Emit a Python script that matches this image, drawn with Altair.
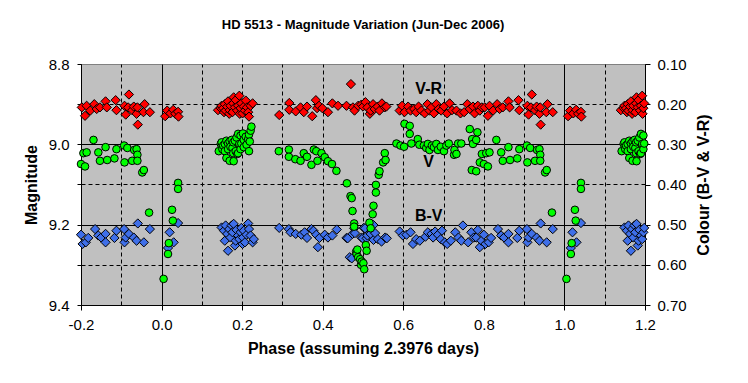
import altair as alt
import pandas as pd

TITLE = "HD 5513 - Magnitude Variation (Jun-Dec 2006)"
X_TITLE = "Phase (assuming 2.3976 days)"
Y_LEFT_TITLE = "Magnitude"
Y_RIGHT_TITLE = "Colour (B-V & V-R)"

x_ticks = [-0.2, -0.1, 0.0, 0.1, 0.2, 0.3, 0.4, 0.5, 0.6, 0.7, 0.8, 0.9, 1.0, 1.1, 1.2]
mag_ticks = [8.8, 8.9, 9.0, 9.1, 9.2, 9.3, 9.4]
col_ticks = [0.1, 0.2, 0.3, 0.4, 0.5, 0.6, 0.7]

# V magnitude, phase 0..1 (the chart repeats phases 0.8-1.0 at -0.2..0 and 0-0.2 at 1.0..1.2)
v_phase = [0.005, 0.016, 0.018, 0.026, 0.028, 0.041, 0.041,
           0.142, 0.147, 0.149, 0.151, 0.153, 0.157, 0.157, 0.161, 0.161, 0.165, 0.165, 0.169, 0.169,
           0.171, 0.174, 0.176, 0.178, 0.178, 0.179, 0.182, 0.184, 0.186, 0.188, 0.190, 0.190, 0.193,
           0.196, 0.196, 0.198, 0.202, 0.204, 0.204, 0.209, 0.211, 0.215, 0.217, 0.217, 0.219, 0.221, 0.223,
           0.291, 0.316, 0.316, 0.332, 0.345, 0.353, 0.361, 0.372, 0.378, 0.384, 0.387, 0.397, 0.405,
           0.413, 0.423, 0.434,
           0.460, 0.469, 0.472, 0.474, 0.478, 0.478, 0.483, 0.484, 0.486, 0.488, 0.493, 0.495, 0.497,
           0.501, 0.503, 0.507, 0.509, 0.516, 0.519, 0.524, 0.526, 0.532, 0.532, 0.539, 0.541, 0.550,
           0.554, 0.556,
           0.583, 0.593, 0.602, 0.603, 0.616, 0.616, 0.620, 0.636, 0.640, 0.651, 0.657, 0.661, 0.665,
           0.671, 0.676, 0.682, 0.686, 0.693, 0.701, 0.707, 0.713, 0.726, 0.727, 0.732, 0.736, 0.744,
           0.765, 0.770, 0.771, 0.773, 0.781, 0.781, 0.784, 0.790, 0.795, 0.800, 0.806, 0.810, 0.814,
           0.831, 0.843, 0.847,
           0.861, 0.865, 0.883, 0.888, 0.907, 0.908, 0.915, 0.927, 0.932, 0.938, 0.940, 0.940, 0.952,
           0.956, 0.969]
v_mag = [9.335, 9.273, 9.246, 9.163, 9.190, 9.096, 9.111,
         9.017, 8.999, 8.995, 9.012, 9.003, 8.999, 9.017, 8.991, 9.034, 8.998, 9.012, 8.993, 9.041,
         9.006, 8.989, 9.009, 8.995, 9.022, 9.042, 8.991, 9.017, 8.983, 9.024, 8.974, 9.022, 8.999,
         8.978, 9.012, 8.998, 8.973, 8.989, 9.007, 8.981, 9.001, 8.987, 8.976, 9.017, 8.993, 8.966, 8.956,
         9.017, 9.013, 9.031, 9.037, 9.041, 9.022, 9.031, 9.051, 9.013, 9.017, 9.041, 9.022, 9.032,
         9.042, 9.049, 9.066,
         9.097, 9.129, 9.134, 9.166, 9.197, 9.205, 9.267, 9.273, 9.262, 9.281, 9.286, 9.300, 9.292,
         9.296, 9.311, 9.251, 9.265, 9.195, 9.209, 9.174, 9.153, 9.120, 9.101, 9.076, 9.067, 9.045,
         9.022, 9.039,
         8.998, 9.003, 9.006, 8.949, 8.954, 8.974, 8.998, 8.987, 9.001, 9.003, 9.009, 8.999, 9.014,
         9.003, 9.007, 8.999, 9.014, 9.006, 9.017, 9.003, 8.998, 9.026, 9.014, 9.024, 8.998, 8.998,
         8.962, 9.064, 8.987, 8.999, 8.989, 9.067, 8.970, 9.045, 9.024, 9.049, 9.022, 9.055, 9.020,
         8.989, 9.020, 9.041,
         9.007, 9.039, 9.035, 9.012, 9.003, 9.045, 9.009, 9.041, 9.014, 9.012, 9.026, 9.041, 9.070,
         9.064, 9.170]

# B-V colour index
bv_phase = [0.016, 0.020, 0.030, 0.041,
            0.149, 0.155, 0.157, 0.159, 0.163, 0.165, 0.168, 0.171, 0.174, 0.176, 0.179, 0.182, 0.184,
            0.186, 0.190, 0.193, 0.196, 0.198, 0.201, 0.202, 0.204, 0.207, 0.211, 0.215, 0.217, 0.221,
            0.226, 0.229,
            0.292, 0.316, 0.320, 0.333, 0.347, 0.355, 0.361, 0.372, 0.377, 0.384, 0.388, 0.392, 0.405,
            0.413, 0.424, 0.435,
            0.459, 0.462, 0.467, 0.472, 0.474, 0.478, 0.480, 0.496, 0.499, 0.502, 0.505, 0.509, 0.511,
            0.519, 0.526, 0.526, 0.530, 0.537, 0.546, 0.555, 0.559,
            0.591, 0.599, 0.608, 0.618, 0.624, 0.632, 0.641, 0.655, 0.661, 0.670, 0.674, 0.679, 0.686,
            0.693, 0.696, 0.703, 0.709, 0.718, 0.729, 0.737, 0.744, 0.748, 0.761, 0.769, 0.775, 0.781,
            0.785, 0.790, 0.794, 0.800, 0.804, 0.812, 0.818, 0.835, 0.843, 0.850,
            0.861, 0.861, 0.883, 0.888, 0.907, 0.908, 0.911, 0.919, 0.931, 0.938, 0.941, 0.956, 0.971]
bv_col = [0.558, 0.519, 0.544, 0.496,
          0.507, 0.515, 0.540, 0.502, 0.523, 0.565, 0.511, 0.532, 0.502, 0.519, 0.498, 0.552, 0.540,
          0.513, 0.527, 0.536, 0.519, 0.508, 0.548, 0.532, 0.515, 0.544, 0.525, 0.497, 0.511, 0.527,
          0.544, 0.536,
          0.508, 0.511, 0.519, 0.523, 0.525, 0.519, 0.533, 0.511, 0.515, 0.525, 0.556, 0.533, 0.525,
          0.532, 0.527, 0.512,
          0.533, 0.534, 0.581, 0.584, 0.523, 0.509, 0.521, 0.532, 0.534, 0.508, 0.509, 0.534, 0.527,
          0.523, 0.501, 0.538, 0.521, 0.536, 0.542, 0.532, 0.534,
          0.517, 0.527, 0.525, 0.519, 0.548, 0.536, 0.540, 0.530, 0.519, 0.523, 0.532, 0.517, 0.525,
          0.536, 0.515, 0.544, 0.548, 0.540, 0.519, 0.532, 0.540, 0.502, 0.544, 0.519, 0.532, 0.532,
          0.513, 0.556, 0.540, 0.525, 0.548, 0.544, 0.533, 0.511, 0.527, 0.532,
          0.523, 0.544, 0.533, 0.515, 0.511, 0.544, 0.532, 0.523, 0.532, 0.540, 0.497, 0.544, 0.511]

# V-R colour index
vr_phase = [0.009, 0.014, 0.022, 0.029, 0.034, 0.041, 0.042,
            0.140, 0.147, 0.149, 0.153, 0.155, 0.157, 0.159, 0.163, 0.165, 0.168, 0.169, 0.171, 0.176,
            0.178, 0.179, 0.182, 0.184, 0.188, 0.190, 0.193, 0.194, 0.196, 0.198, 0.201, 0.204, 0.207,
            0.209, 0.212, 0.215, 0.217, 0.221, 0.226,
            0.292, 0.317, 0.317, 0.333, 0.345, 0.353, 0.361, 0.374, 0.383, 0.386, 0.391, 0.399, 0.413,
            0.424, 0.438, 0.459, 0.470, 0.475, 0.479, 0.488, 0.496,
            0.500, 0.506, 0.511, 0.517, 0.519, 0.525, 0.529, 0.536, 0.541, 0.547, 0.554, 0.558,
            0.591, 0.597, 0.603, 0.612, 0.618, 0.627, 0.632, 0.638, 0.645, 0.653, 0.660, 0.665, 0.670,
            0.676, 0.682, 0.688, 0.694, 0.701, 0.709, 0.715, 0.721, 0.732, 0.742, 0.751, 0.759, 0.765,
            0.773, 0.777, 0.785, 0.790, 0.795, 0.802, 0.810, 0.814, 0.823, 0.833, 0.839, 0.847,
            0.861, 0.864, 0.886, 0.888, 0.908, 0.911, 0.917, 0.919, 0.927, 0.931, 0.938, 0.940, 0.941,
            0.955, 0.958, 0.971]
vr_col = [0.230, 0.216, 0.223, 0.214, 0.224, 0.219, 0.231,
          0.215, 0.210, 0.204, 0.210, 0.220, 0.200, 0.216, 0.206, 0.193, 0.224, 0.215, 0.204, 0.220,
          0.198, 0.183, 0.208, 0.190, 0.216, 0.204, 0.179, 0.224, 0.210, 0.198, 0.223, 0.206, 0.216,
          0.191, 0.208, 0.220, 0.231, 0.204, 0.198,
          0.227, 0.197, 0.214, 0.218, 0.208, 0.220, 0.206, 0.230, 0.190, 0.210, 0.204, 0.210, 0.220,
          0.198, 0.204, 0.204, 0.150, 0.208, 0.216, 0.204, 0.201,
          0.206, 0.195, 0.208, 0.224, 0.216, 0.200, 0.212, 0.206, 0.216, 0.198, 0.208, 0.206,
          0.216, 0.204, 0.220, 0.206, 0.216, 0.212, 0.220, 0.206, 0.216, 0.223, 0.200, 0.216, 0.208,
          0.223, 0.200, 0.212, 0.216, 0.206, 0.223, 0.198, 0.215, 0.216, 0.223, 0.220, 0.200, 0.212,
          0.206, 0.223, 0.204, 0.216, 0.208, 0.208, 0.229, 0.204, 0.216, 0.200, 0.212, 0.208,
          0.193, 0.208, 0.190, 0.215, 0.204, 0.226, 0.208, 0.176, 0.215, 0.206, 0.224, 0.208, 0.251,
          0.220, 0.200, 0.220]

# in-plot series labels (x = phase, y = magnitude scale)
label_text = ["V-R", "V", "B-V"]
label_phase = [0.663, 0.663, 0.663]
label_mag = [8.862, 9.045, 9.178]


def fold(phases, values, series):
    rows = []
    for p, v in zip(phases, values):
        for shift in (-1, 0, 1):
            q = round(p + shift, 4)
            if -0.2 <= q <= 1.2:
                rows.append({"phase": q, "value": v, "series": series})
    return rows


df_v = pd.DataFrame(fold(v_phase, v_mag, "V"))
df_c = pd.DataFrame(fold(vr_phase, vr_col, "V-R") + fold(bv_phase, bv_col, "B-V"))
df_lab = pd.DataFrame({"phase": label_phase, "value": label_mag, "text": label_text})

FONT = "Liberation Sans"

x_axis = alt.Axis(
    orient="bottom", values=x_ticks, title=X_TITLE,
    labelExpr="abs(round(datum.value*10)) % 2 == 0 ? replace(format(datum.value, '.1f'), '\u2212', '-') : ''",
    tickOpacity={"condition": {"test": "abs(round(datum.value*10)) % 2 == 0", "value": 1}, "value": 0},
    grid=True, gridColor="black", gridWidth=1,
    gridDash={"condition": {"test": "abs(datum.value) < 0.001 || abs(datum.value - 1) < 0.001", "value": []},
              "value": [4, 3]},
    labelFlush=False, labelOverlap=False, labelFont=FONT, labelFontSize=15, labelColor="black",
    labelPadding=7, tickSize=5, tickColor="black", domainColor="black",
    titleFont=FONT, titleFontSize=16, titleFontWeight="bold", titleColor="black", titlePadding=8,
)
x_enc = alt.X("phase:Q", scale=alt.Scale(domain=[-0.2, 1.2], nice=False, zero=False), axis=x_axis)

left_axis = alt.Axis(
    orient="left", values=mag_ticks, title=Y_LEFT_TITLE,
    labelExpr="round(datum.value*10) % 2 == 0 ? format(datum.value, '.1f') : ''",
    grid=True, gridColor="black", gridWidth=1,
    gridDash={"condition": {"test": "abs(datum.value - 9.0) < 0.001 || abs(datum.value - 9.2) < 0.001",
                            "value": []}, "value": [4, 3]},
    gridOpacity={"condition": {"test": "datum.value < 8.85 || datum.value > 9.35", "value": 0}, "value": 1},
    labelFlush=False, labelOverlap=False, labelFont=FONT, labelFontSize=15, labelColor="black",
    labelPadding=8, tickSize=4, tickColor="black", domainColor="black",
    titleFont=FONT, titleFontSize=16, titleFontWeight="bold", titleColor="black", titlePadding=9,
)
right_axis = alt.Axis(
    orient="right", values=col_ticks, format=".2f", title=Y_RIGHT_TITLE, grid=False,
    labelFlush=False, labelOverlap=False, labelFont=FONT, labelFontSize=15, labelColor="black",
    labelPadding=7, tickSize=5, tickColor="black", domainColor="black",
    titleFont=FONT, titleFontSize=16, titleFontWeight="bold", titleColor="black", titlePadding=9,
    titleAngle=270, titleBaseline="top",
)

diamonds = alt.Chart(df_c).mark_point(
    shape="diamond", filled=True, stroke="black", strokeWidth=1, size=85, opacity=1
).encode(
    x=x_enc,
    y=alt.Y("value:Q", scale=alt.Scale(domain=[0.1, 0.7], reverse=True, nice=False, zero=False), axis=right_axis),
    fill=alt.Fill("series:N", scale=alt.Scale(domain=["V-R", "B-V"], range=["#FF0000", "#3F6FE8"]), legend=None),
)

circles = alt.Chart(df_v).mark_point(
    shape="circle", filled=True, fill="#00FF00", stroke="black", strokeWidth=1, size=58, opacity=1
).encode(
    x=x_enc,
    y=alt.Y("value:Q", scale=alt.Scale(domain=[8.8, 9.4], reverse=True, nice=False, zero=False), axis=left_axis),
)

labels = alt.Chart(df_lab).mark_text(
    font=FONT, fontSize=16, fontWeight="bold", color="black", align="center", baseline="middle"
).encode(
    x=x_enc,
    y=alt.Y("value:Q", scale=alt.Scale(domain=[8.8, 9.4], reverse=True, nice=False, zero=False), axis=None),
    text="text:N",
)

chart = alt.layer(diamonds, circles, labels).resolve_scale(y="independent").properties(
    width=564, height=241,
    title=alt.TitleParams(TITLE, font=FONT, fontSize=13, fontWeight="bold", color="black", offset=25,
                          anchor="middle"),
    padding={"left": 73, "top": 56, "right": 95, "bottom": 70},
    autosize=alt.AutoSizeParams(type="none"),
    background="white",
).configure_view(fill="#C0C0C0", stroke="#808080", strokeWidth=1)

chart.save("out.html", embed_options={"renderer": "svg", "actions": False})
